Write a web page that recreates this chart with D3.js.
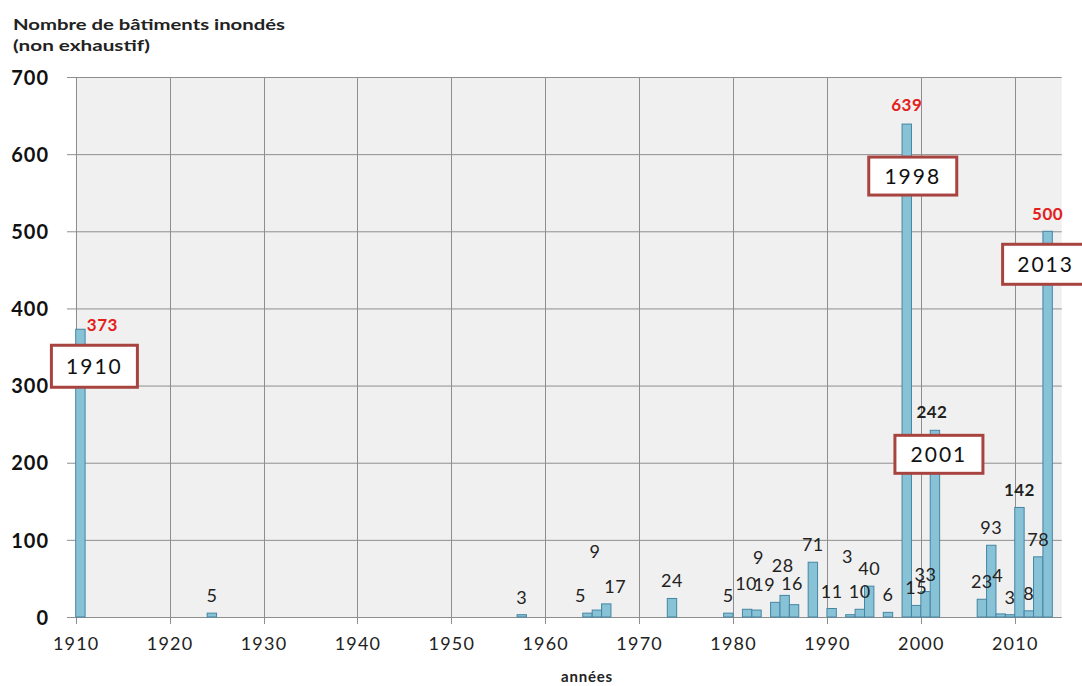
<!DOCTYPE html>
<html>
<head>
<meta charset="utf-8">
<script src="https://cdn.jsdelivr.net/npm/d3@7/dist/d3.min.js"></script>
<style>
  html, body { margin: 0; padding: 0; background: #fff; }
  svg { display: block; }
  text { font-family: Lato, "Open Sans", sans-serif; }
</style>
</head>
<body>
<svg id="chart" width="1082" height="686"></svg>
<script>
// ---- data ----
const years  = [1910, 1924, 1957, 1964, 1965, 1966, 1973, 1979, 1981, 1982, 1984, 1985, 1986, 1988, 1990, 1992, 1993, 1994, 1996, 1998, 1999, 2000, 2001, 2006, 2007, 2008, 2009, 2010, 2011, 2012, 2013];
const values = [373, 5, 3, 5, 9, 17, 24, 5, 10, 9, 19, 28, 16, 71, 11, 3, 10, 40, 6, 639, 15, 33, 242, 23, 93, 4, 3, 142, 8, 78, 500];
const redYears  = [1910, 1998, 2013];
const boldYears = [2001, 2010];
const boxYears  = [1910, 1998, 2001, 2013];
const decadeTicks = [1910, 1920, 1930, 1940, 1950, 1960, 1970, 1980, 1990, 2000, 2010];
const valueTicks  = [0, 100, 200, 300, 400, 500, 600, 700];
const yTitle = ["Nombre de bâtiments inondés", "(non exhaustif)"];
const xTitle = "années";

// ---- layout (positions/styles only) ----
const labelNudge = {
  1910: [22, 13], 1964: [-7, 0], 1965: [-2, -41], 1966: [9, 0],
  1981: [-1, -8], 1982: [2, -35], 1984: [-11, 0], 1985: [-2, -12],
  1986: [-2, -4], 1992: [-3, -41], 2008: [-3, -21], 2001: [-3, -1], 1998: [0, -2]
};
const boxNudge = { 1910: [14, 37, 86, 42], 1998: [6, 52, 88, 38], 2001: [4, 24, 88, 38], 2013: [-2, 33, 86, 40] };
const titleWidths = [272, 137];

const svg = d3.select("#chart");
const x = d3.scaleLinear().domain([1910, 2015]).range([75.7, 1061.7]);
const y = d3.scaleLinear().domain([0, 700]).range([617, 77]);
const data = years.map((yr, i) => ({ year: yr, value: values[i] }));

// plot background
svg.append("rect").attr("x", x(1910)).attr("y", y(700))
  .attr("width", x(2015) - x(1910)).attr("height", y(0) - y(700))
  .attr("fill", "#f0f0f0");

// horizontal gridlines
svg.append("g").selectAll("line").data(valueTicks).join("line")
  .attr("x1", 67).attr("x2", x(2015))
  .attr("y1", d => y(d) + 0.5).attr("y2", d => y(d) + 0.5)
  .attr("stroke", "#8e8e8e").attr("stroke-width", 1);

// vertical gridlines
svg.append("g").selectAll("line").data(decadeTicks).join("line")
  .attr("x1", d => Math.round(x(d)) + 0.5).attr("x2", d => Math.round(x(d)) + 0.5)
  .attr("y1", y(700)).attr("y2", y(0) + 7)
  .attr("stroke", "#8e8e8e").attr("stroke-width", 1);

// bars
svg.append("g").selectAll("rect").data(data).join("rect")
  .attr("x", d => x(d.year))
  .attr("y", d => y(d.value))
  .attr("width", d => x(d.year + 1) - x(d.year))
  .attr("height", d => y(0) - y(d.value))
  .attr("fill", "#87c2d6")
  .attr("stroke", "#4686a3").attr("stroke-width", 1);

// x axis labels
const xAxis = d3.axisBottom(x).tickValues(decadeTicks).tickFormat(d3.format("d")).tickSize(0).tickPadding(0);
const gx = svg.append("g").attr("transform", `translate(0,${y(0)})`).call(xAxis);
gx.select(".domain").remove();
gx.selectAll("text").attr("dy", null).attr("y", 33)
  .attr("font-family", "Lato").attr("font-size", 18).attr("letter-spacing", 1.2)
  .attr("fill", "#222");

// y axis labels
const yAxis = d3.axisLeft(y).tickValues(valueTicks).tickSize(0).tickPadding(0);
const gy = svg.append("g").attr("transform", "translate(49,0)").call(yAxis);
gy.select(".domain").remove();
gy.selectAll("text").attr("dy", "0.36em").attr("x", 0)
  .attr("font-family", "Lato").attr("font-size", 20).attr("font-weight", "bold")
  .attr("letter-spacing", 1).attr("fill", "#111");

// data labels
svg.append("g").selectAll("text").data(data).join("text")
  .attr("x", d => x(d.year) + (x(d.year + 1) - x(d.year)) / 2 + (labelNudge[d.year] ? labelNudge[d.year][0] : 0))
  .attr("y", d => y(d.value) - 11 + (labelNudge[d.year] ? labelNudge[d.year][1] : 0))
  .attr("text-anchor", "middle")
  .attr("font-size", d => (redYears.includes(d.year) || boldYears.includes(d.year)) ? 17 : 18)
  .attr("font-weight", d => (redYears.includes(d.year) || boldYears.includes(d.year)) ? "bold" : "normal")
  .attr("letter-spacing", 0.5)
  .attr("fill", d => redYears.includes(d.year) ? "#e3201b" : "#222")
  .text(d => d.value);

// annotation boxes
const boxes = svg.append("g").selectAll("g").data(data.filter(d => boxYears.includes(d.year))).join("g")
  .attr("transform", d => {
    const n = boxNudge[d.year];
    const cx = x(d.year) + (x(d.year + 1) - x(d.year)) / 2 + n[0];
    const cy = y(d.value) + n[1];
    return `translate(${cx},${cy})`;
  });
boxes.append("rect")
  .attr("x", d => -boxNudge[d.year][2] / 2).attr("y", d => -boxNudge[d.year][3] / 2)
  .attr("width", d => boxNudge[d.year][2]).attr("height", d => boxNudge[d.year][3])
  .attr("fill", "#fff").attr("stroke", "#a8443f").attr("stroke-width", 3);
boxes.append("text").attr("text-anchor", "middle").attr("dy", "0.36em")
  .attr("font-size", 21).attr("letter-spacing", 2).attr("fill", "#111")
  .text(d => d.year);

// titles
svg.append("g").selectAll("text").data(yTitle).join("text")
  .attr("x", 13).attr("y", (d, i) => 30 + i * 21)
  .attr("font-size", 16).attr("font-weight", "bold")
  .attr("textLength", (d, i) => titleWidths[i]).attr("lengthAdjust", "spacingAndGlyphs")
  .attr("fill", "#222").text(d => d);
svg.append("text").attr("x", 587).attr("y", 682).attr("text-anchor", "middle")
  .attr("font-size", 15).attr("font-weight", "bold").attr("letter-spacing", 0.8)
  .attr("fill", "#222").text(xTitle);
</script>
</body>
</html>
